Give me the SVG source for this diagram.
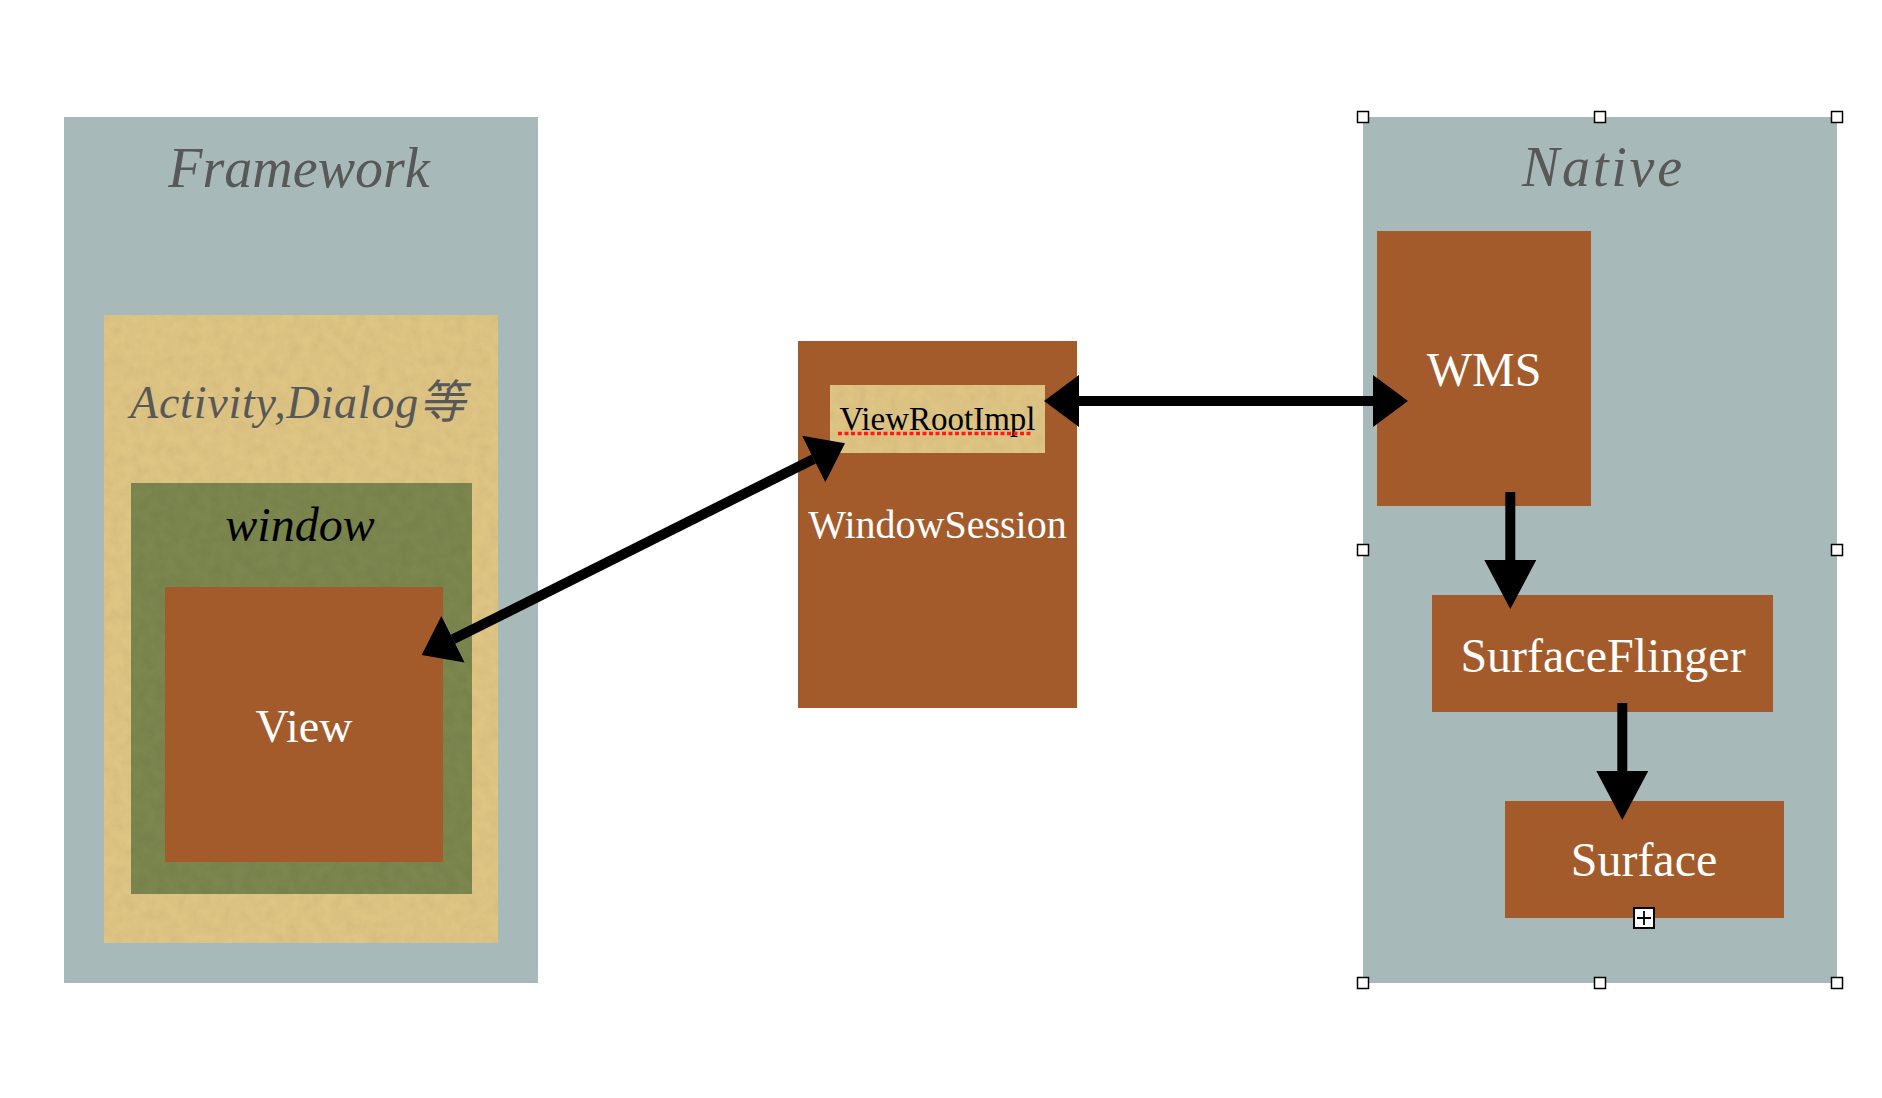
<svg xmlns="http://www.w3.org/2000/svg" width="1882" height="1098" viewBox="0 0 1882 1098">
  <style>
    .panel { fill: #A7BAB9; }
    .tan { fill: #DFC584; }
    .olive { fill: #7C8750; }
    .rust { fill: #A45B2C; }
    .title { font-family: "Liberation Serif", "Noto Sans CJK SC", serif; font-style: italic; fill: #585858; text-anchor: middle; }
    .lbl { font-family: "Liberation Serif", serif; fill: #FFFFFF; text-anchor: middle; }
    .conn { stroke: #000000; stroke-width: 10; fill: none; }
    .handle { fill: #FFFFFF; stroke: #000000; stroke-width: 1.5; }
  </style>
  <defs>
    <marker id="headS" viewBox="0 -26 35 52" refX="0" refY="0" markerWidth="35" markerHeight="52" markerUnits="userSpaceOnUse" orient="auto-start-reverse">
      <path d="M0,-26 L35,0 L0,26 z" fill="#000000"/>
    </marker>
    <marker id="headL" viewBox="0 -26 49 52" refX="0" refY="0" markerWidth="49" markerHeight="52" markerUnits="userSpaceOnUse" orient="auto">
      <path d="M0,-26 L49,0 L0,26 z" fill="#000000"/>
    </marker>
    <filter id="paper" x="0" y="0" width="100%" height="100%">
      <feTurbulence type="fractalNoise" baseFrequency="0.09" numOctaves="4" seed="3" result="n"/>
      <feColorMatrix in="n" type="matrix" values="0 0 0 0 0  0 0 0 0 0  0 0 0 0 0  0.16 0 0 0 -0.05" result="spots"/>
      <feComposite in="spots" in2="SourceGraphic" operator="in" result="clip"/>
      <feMerge>
        <feMergeNode in="SourceGraphic"/>
        <feMergeNode in="clip"/>
      </feMerge>
    </filter>
  </defs>

  <rect width="1882" height="1098" fill="#FFFFFF"/>

  <g id="framework">
    <rect class="panel" x="64" y="117" width="474" height="866"/>
    <text class="title" x="299" y="187" font-size="56">Framework</text>
  </g>

  <g id="activity">
    <rect class="tan" x="104" y="315" width="394" height="628" filter="url(#paper)"/>
    <text class="title" x="297.5" y="418" font-size="46" textLength="335" lengthAdjust="spacing">Activity,Dialog等</text>
  </g>

  <g id="window">
    <rect class="olive" x="131" y="483" width="341" height="411" filter="url(#paper)"/>
    <text class="title" x="300" y="541" font-size="48" style="fill:#000000">window</text>
  </g>

  <g id="view">
    <rect class="rust" x="165" y="587" width="278" height="275"/>
    <text class="lbl" x="304" y="742" font-size="46">View</text>
  </g>

  <g id="windowsession">
    <rect class="rust" x="798" y="341" width="279" height="367"/>
    <text class="lbl" x="937.5" y="538" font-size="40">WindowSession</text>
  </g>

  <g id="viewrootimpl">
    <rect class="tan" x="830" y="385" width="215" height="68" filter="url(#paper)"/>
    <text class="lbl" x="937.5" y="430" font-size="33" style="fill:#000000">ViewRootImpl</text>
    <line x1="838" y1="433.5" x2="1032" y2="433.5" stroke="#FF1A1A" stroke-width="3.5" stroke-dasharray="4 2.5"/>
  </g>

  <g id="native">
    <rect class="panel" x="1363" y="117" width="474" height="866"/>
    <text class="title" x="1602" y="186" font-size="56" textLength="160" lengthAdjust="spacing">Native</text>
  </g>

  <g id="wms">
    <rect class="rust" x="1377" y="231" width="214" height="275"/>
    <text class="lbl" x="1484" y="386" font-size="48">WMS</text>
  </g>

  <g id="surfaceflinger">
    <rect class="rust" x="1432" y="595" width="341" height="117"/>
    <text class="lbl" x="1603" y="672" font-size="48">SurfaceFlinger</text>
  </g>

  <g id="surface">
    <rect class="rust" x="1505" y="801" width="279" height="117"/>
    <text class="lbl" x="1644" y="876" font-size="48">Surface</text>
  </g>

  <g id="connectors">
    <line class="conn" x1="453" y1="639.3" x2="813.7" y2="459" marker-start="url(#headS)" marker-end="url(#headS)"/>
    <line class="conn" x1="1079" y1="401" x2="1373" y2="401" marker-start="url(#headS)" marker-end="url(#headS)"/>
    <line class="conn" x1="1510.3" y1="492" x2="1510.3" y2="560" marker-end="url(#headL)"/>
    <line class="conn" x1="1622.3" y1="703" x2="1622.3" y2="771" marker-end="url(#headL)"/>
  </g>

  <g id="selection-handles">
    <rect class="handle" x="1357.5" y="111.5" width="11" height="11"/>
    <rect class="handle" x="1594.5" y="111.5" width="11" height="11"/>
    <rect class="handle" x="1831.5" y="111.5" width="11" height="11"/>
    <rect class="handle" x="1357.5" y="544.5" width="11" height="11"/>
    <rect class="handle" x="1831.5" y="544.5" width="11" height="11"/>
    <rect class="handle" x="1357.5" y="977.5" width="11" height="11"/>
    <rect class="handle" x="1594.5" y="977.5" width="11" height="11"/>
    <rect class="handle" x="1831.5" y="977.5" width="11" height="11"/>
    <rect x="1634" y="908" width="20" height="20" fill="#FFFFFF" stroke="#000000" stroke-width="2"/>
    <path d="M1637,918 H1651 M1644,911 V925" stroke="#000000" stroke-width="1.8" fill="none"/>
  </g>
</svg>
